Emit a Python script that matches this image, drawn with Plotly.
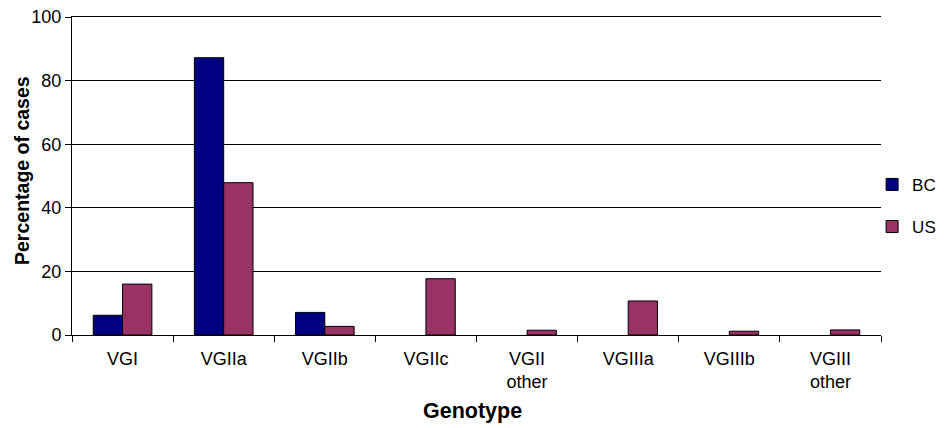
import plotly.graph_objects as go

categories = ["VGI", "VGIIa", "VGIIb", "VGIIc", "VGII<br>other", "VGIIIa", "VGIIIb", "VGIII<br>other"]
bc_values = [6.2, 87.2, 7.1, 0, 0, 0, 0, 0]
us_values = [16.0, 47.9, 2.7, 17.7, 1.5, 10.7, 1.2, 1.6]
y_ticks = [0, 20, 40, 60, 80, 100]

FONT = "Liberation Sans, Arial, sans-serif"

def hide_zero(vals):
    return [v if v > 0 else None for v in vals]

fig = go.Figure()
fig.add_trace(go.Bar(name="BC", x=categories, y=hide_zero(bc_values),
                     marker=dict(color="#000080", line=dict(color="black", width=1)),
                     legendgroup="bc"))
fig.add_trace(go.Bar(name="US", x=categories, y=hide_zero(us_values),
                     marker=dict(color="#993366", line=dict(color="black", width=1)),
                     legendgroup="us"))

fig.update_layout(
    width=944, height=428,
    margin=dict(l=64, r=71, t=9, b=101),
    paper_bgcolor="white", plot_bgcolor="white",
    barmode="group", bargap=0.42, bargroupgap=0,
    font=dict(family=FONT, size=18, color="black"),
    legend=dict(x=0.989, y=0.406, xanchor="left", yanchor="middle",
                font=dict(size=17), tracegroupgap=17, itemwidth=30,
                bgcolor="rgba(0,0,0,0)"),
    xaxis=dict(
        tickson="boundaries", ticks="outside", ticklen=6, tickcolor="black",
        showline=True, linecolor="black", linewidth=1, mirror=True,
        showgrid=False, tickfont=dict(size=18), automargin=False,
        ticklabelstandoff=7, ticklabeloverflow="allow",
    ),
    yaxis=dict(
        range=[0, 100], tickvals=y_ticks,
        ticks="outside", ticklen=6, tickcolor="black",
        showline=True, linecolor="black", linewidth=1,
        showgrid=True, gridcolor="black", gridwidth=1,
        zeroline=False, tickfont=dict(size=18), automargin=False,
        ticklabeloverflow="allow",
    ),
    annotations=[
        dict(text="<b>Percentage of cases</b>", textangle=-90,
             xref="paper", yref="paper", x=0, y=0.5, xshift=-50, yshift=5,
             xanchor="center", yanchor="middle", showarrow=False,
             font=dict(size=19.5)),
        dict(text="<b>Genotype</b>",
             xref="paper", yref="paper", x=0.5, y=0, xshift=-4, yshift=-76,
             xanchor="center", yanchor="middle", showarrow=False,
             font=dict(size=21.5)),
    ],
)

fig.write_html("out.html")
